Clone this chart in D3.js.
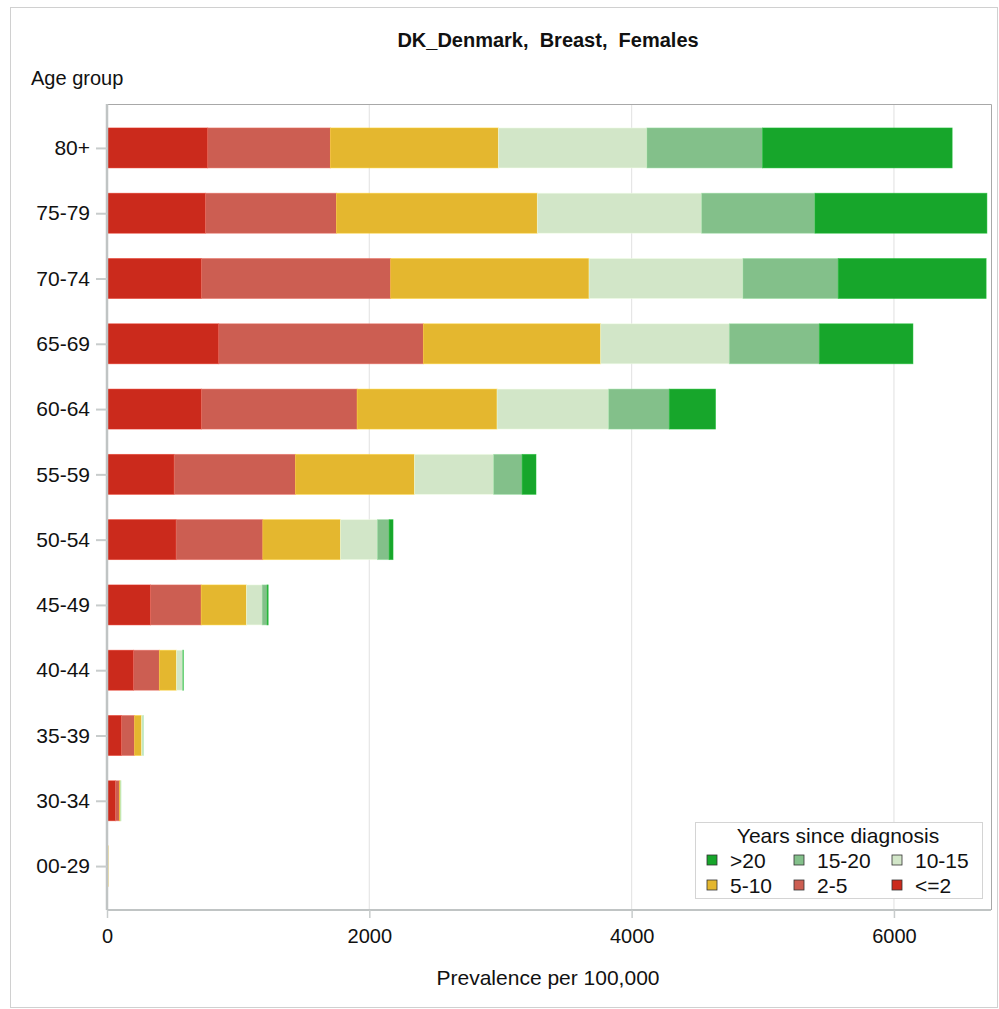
<!DOCTYPE html>
<html>
<head>
<meta charset="utf-8">
<script src="https://cdn.jsdelivr.net/npm/d3@7"></script>
<style>
  body { margin: 0; background: #fff; }
  svg { font-family: "Liberation Sans", Arial, sans-serif; }
</style>
</head>
<body>
<svg id="chart" width="999" height="1009"></svg>
<script>
// ---- data ----
const ageGroups = ["80+", "75-79", "70-74", "65-69", "60-64", "55-59", "50-54", "45-49", "40-44", "35-39", "30-34", "00-29"];
const seriesKeys = ["<=2", "2-5", "5-10", "10-15", "15-20", ">20"];
const seriesColors = ["#CB2A1C", "#CC5E52", "#E4B72F", "#D2E6C8", "#83C08A", "#17A62B"];
const vLe2   = [768, 751, 720, 852, 720, 512, 527, 332, 203, 111, 64, 5];
const v2_5   = [935, 998, 1443, 1560, 1187, 925, 661, 386, 196, 99, 30, 4];
const v5_10  = [1281, 1532, 1512, 1352, 1067, 907, 592, 345, 131, 54, 9, 2];
const v10_15 = [1133, 1253, 1174, 981, 851, 604, 282, 120, 46, 10, 2, 1];
const v15_20 = [881, 864, 726, 686, 462, 217, 89, 38, 5, 2, 1, 0];
const vGt20  = [1446, 1311, 1128, 714, 353, 106, 30, 8, 1, 0, 0, 0];
const xTicks = [0, 2000, 4000, 6000];
const legendOrder = [">20", "15-20", "10-15", "5-10", "2-5", "<=2"];

const seriesValues = [vLe2, v2_5, v5_10, v10_15, v15_20, vGt20];
const table = ageGroups.map((g, i) => {
  const row = { group: g };
  seriesKeys.forEach((k, j) => row[k] = seriesValues[j][i]);
  return row;
});

// ---- layout ----
const svg = d3.select("#chart");
const plot = { left: 107, right: 991, top: 104, bottom: 910 };
const FONT = "Liberation Sans, Arial, sans-serif";

// outer frame
svg.append("rect").attr("x", 10.5).attr("y", 7.5).attr("width", 987).attr("height", 1000)
  .attr("fill", "none").attr("stroke", "#d0d0d0").attr("stroke-width", 1);

const x = d3.scaleLinear().domain([0, 6740]).range([plot.left, plot.right]);
const y = d3.scalePoint().domain(ageGroups).range([plot.top, plot.bottom]).padding(0.673);
const barH = 40;

// grid
svg.append("g").selectAll("line").data(xTicks.filter(t => t > 0)).join("line")
  .attr("x1", d => x(d)).attr("x2", d => x(d))
  .attr("y1", plot.top).attr("y2", plot.bottom)
  .attr("stroke", "#e6e6e6").attr("stroke-width", 1.2);

// plot frame (top and right)
svg.append("path")
  .attr("d", `M${plot.left},${plot.top + 0.5}H${plot.right + 0.5}V${plot.bottom}`)
  .attr("fill", "none").attr("stroke", "#a8a8a8").attr("stroke-width", 1);

// bars
const stack = d3.stack().keys(seriesKeys)(table);
const color = d3.scaleOrdinal().domain(seriesKeys).range(seriesColors);
svg.append("g").selectAll("g").data(stack).join("g")
  .attr("fill", d => color(d.key))
  .attr("stroke", d => d3.color(color(d.key)).brighter(0.4))
  .attr("stroke-width", 0.8)
  .selectAll("rect").data(d => d).join("rect")
  .attr("x", d => x(d[0]))
  .attr("width", d => Math.max(0, x(d[1]) - x(d[0])))
  .attr("y", d => y(d.data.group) - barH / 2)
  .attr("height", barH)
  .attr("stroke-opacity", d => (x(d[1]) - x(d[0])) > 0 ? 0.6 : 0);

// y axis
const yAxis = svg.append("g").attr("transform", `translate(${plot.left},0)`)
  .call(d3.axisLeft(y).tickSize(11).tickPadding(6));
yAxis.select(".domain").attr("stroke", "#c0c4c4").attr("stroke-width", 2.5).attr("d", `M0,${plot.top}V${plot.bottom}`);
yAxis.selectAll(".tick line").attr("stroke", "#c8cccc").attr("stroke-width", 2);
yAxis.selectAll(".tick text").attr("font-size", 21).attr("fill", "#111").attr("font-family", FONT);

// x axis
const xAxis = svg.append("g").attr("transform", `translate(0,${plot.bottom})`)
  .call(d3.axisBottom(x).tickValues(xTicks).tickFormat(d3.format("d")).tickSize(8).tickPadding(11));
xAxis.select(".domain").attr("stroke", "#c0c4c4").attr("stroke-width", 2).attr("d", `M${plot.left},0H${plot.right}`);
xAxis.selectAll(".tick line").attr("stroke", "#c8cccc").attr("stroke-width", 1.5);
xAxis.selectAll(".tick text").attr("font-size", 20).attr("fill", "#111").attr("font-family", FONT);

// titles
svg.append("text").attr("x", (plot.left + plot.right) / 2 - 1).attr("y", 47)
  .attr("text-anchor", "middle").attr("font-size", 20).attr("font-weight", "bold").attr("fill", "#111")
  .attr("xml:space", "preserve").style("white-space", "pre")
  .text("DK_Denmark,  Breast,  Females");
svg.append("text").attr("x", 31).attr("y", 85).attr("font-size", 20).attr("fill", "#111").text("Age group");
svg.append("text").attr("x", (plot.left + plot.right) / 2 - 1).attr("y", 985)
  .attr("text-anchor", "middle").attr("font-size", 21).attr("fill", "#111").text("Prevalence per 100,000");

// legend
const lg = svg.append("g");
lg.append("rect").attr("x", 695.5).attr("y", 822.5).attr("width", 287).attr("height", 76)
  .attr("fill", "#fff").attr("stroke", "#d4d4d4").attr("stroke-width", 1);
lg.append("text").attr("x", 838).attr("y", 843).attr("text-anchor", "middle")
  .attr("font-size", 21).attr("fill", "#111").text("Years since diagnosis");
const colX = [707, 794, 892];
const rowY = [860, 885];
legendOrder.forEach((k, i) => {
  const cx = colX[i % 3], cy = rowY[Math.floor(i / 3)];
  lg.append("rect").attr("x", cx).attr("y", cy - 5).attr("width", 10).attr("height", 10)
    .attr("fill", color(k)).attr("stroke", "#333").attr("stroke-width", 0.8);
  lg.append("text").attr("x", cx + 23).attr("y", cy + 8).attr("font-size", 21).attr("fill", "#111").text(k);
});
</script>
</body>
</html>
